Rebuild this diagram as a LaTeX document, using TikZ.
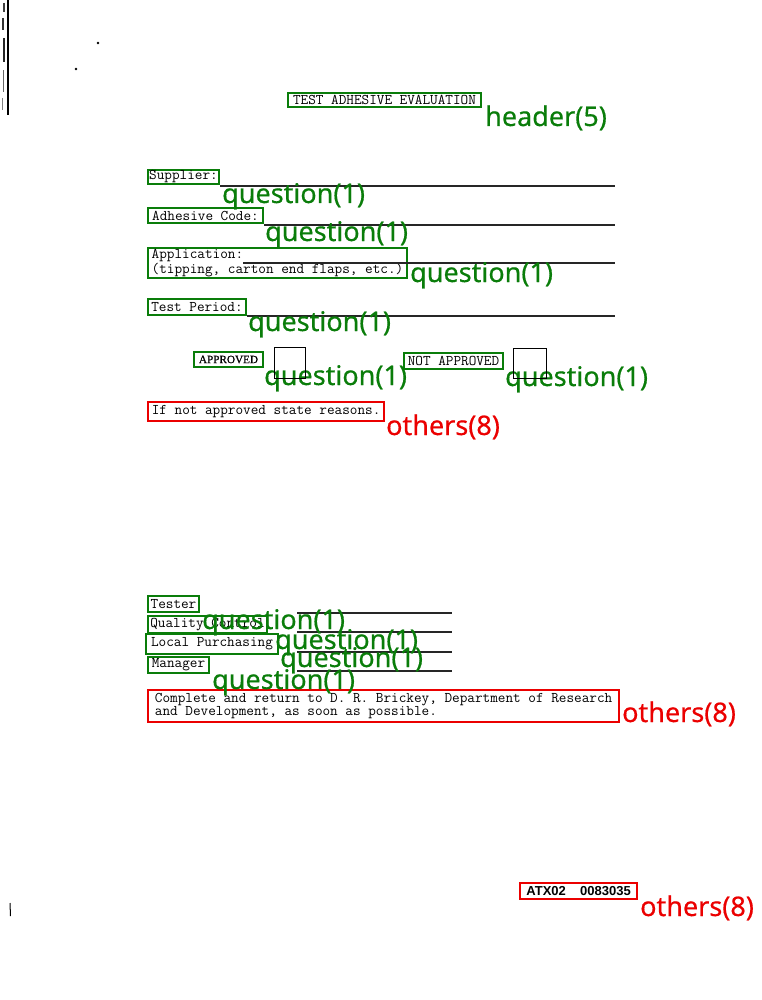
\documentclass[tikz,border=0pt]{standalone}
\usepackage{fontspec}
\newfontfamily\labelfont[FakeBold=0.5]{Noto Sans}
\newcommand{\formfont}{\ttfamily\addfontfeatures{FakeBold=2}}
\newfontfamily\serifform[FakeBold=0.8]{Liberation Serif}
\newfontfamily\idfont{Liberation Sans}
\definecolor{lblgreen}{RGB}{10,125,10}
\definecolor{lblred}{RGB}{235,0,0}
\tikzset{
  formtext/.style={font=\formfont\fontsize{14.8}{13}\selectfont, text=black},
  gbox/.style={draw=lblgreen, line width=2pt, inner sep=0pt, anchor=north west, formtext},
  rbox/.style={draw=lblred, line width=2.2pt, inner sep=0pt, anchor=north west, formtext},
  glabel/.style={font=\labelfont\fontsize{27}{29}\selectfont, text=lblgreen, inner sep=0pt, anchor=base west},
  rlabel/.style={font=\labelfont\fontsize{27}{29}\selectfont, text=lblred, inner sep=0pt, anchor=base west},
  formline/.style={draw=black!85, line width=1.3pt},
  checkbox/.style={draw=black, line width=1pt, inner sep=0pt, anchor=north west}
}
\begin{document}
\begin{tikzpicture}[x=1pt,y=-1pt]
\useasboundingbox (0,0) rectangle (762,1000);
\fill[white] (0,0) rectangle (762,1000);

% scan noise
\draw[line width=1.8pt, black] (8,0) -- (8,115);
\draw[line width=1.2pt, black!75] (4,3) -- (4,12);
\draw[line width=1.5pt, black!80] (3,18) -- (3,30);
\draw[line width=2pt, black!85] (4,38) -- (4,62);
\draw[line width=1pt, black!60] (3,70) -- (3,92);
\draw[line width=0.8pt, black!50] (2,98) -- (2,110);
\fill[black] (98,43) circle (1.3);
\fill[black] (76,69) circle (1.3);
\draw[line width=1pt, black] (10,903) -- (10.5,916);

% header
\node[gbox, minimum width=193pt, minimum height=14pt] (hdr) at (287,92) {TEST ADHESIVE EVALUATION};

% questions with underlines
\node[gbox, minimum width=71pt, minimum height=14pt] (sup) at (147,169) {Supplier:};
\coordinate (supend) at (615,186);
\draw[formline] (sup.east |- supend) -- (supend);

\node[gbox, minimum width=115pt, minimum height=15pt] (adh) at (147,207) {Adhesive Code:};
\coordinate (adhend) at (615,225);
\draw[formline] (adh.east |- adhend) -- (adhend);

\node[gbox, minimum width=259pt, minimum height=30pt, align=left] (app) at (147,247) {Application:\hspace{12.2em}\\(tipping, carton end flaps, etc.)};
\coordinate (appstart) at (243,263);
\coordinate (append) at (615,263);
\draw[formline] (appstart) -- (append);

\node[gbox, minimum width=98pt, minimum height=16pt] (tper) at (147,298) {Test Period:};
\coordinate (tperend) at (615,316);
\draw[formline] (tper.east |- tperend) -- (tperend);

\node[gbox, minimum width=69pt, minimum height=15pt, font=\serifform\fontsize{11.2}{12}\selectfont] (appr) at (193,351) {APPROVED};
\node[gbox, minimum width=99pt, minimum height=16pt] (nappr) at (403,352) {NOT APPROVED};

\node[rbox, minimum width=236pt, minimum height=19pt] (reason) at (147,401) {If not approved state reasons.};

% signatures
\node[gbox, minimum width=51pt, minimum height=16pt] (tester) at (147,595) {Tester};
\node[gbox, minimum width=119pt, minimum height=17pt] (qc) at (147,615) {Quality Control};
\node[gbox, minimum width=132pt, minimum height=20pt] (lp) at (145,633) {Local Purchasing};
\node[gbox, minimum width=61pt, minimum height=16pt] (mgr) at (147,656) {Manager};
\coordinate (s1a) at (297,613); \coordinate (s1b) at (452,613);
\coordinate (s2a) at (297,632); \coordinate (s2b) at (452,632);
\coordinate (s3a) at (297,652); \coordinate (s3b) at (452,652);
\coordinate (s4a) at (297,671); \coordinate (s4b) at (452,671);
\draw[formline] (s1a) -- (s1b);
\draw[formline] (s2a) -- (s2b);
\draw[formline] (s3a) -- (s3b);
\draw[formline] (s4a) -- (s4b);

\node[rbox, minimum width=471pt, minimum height=32pt, align=left] (compl) at (147,689) {Complete and return to D. R. Brickey, Department of Research\\and Development, as soon as possible.\hspace{22.6em}};

\node[rbox, minimum width=117pt, minimum height=16pt, font=\idfont\bfseries\fontsize{13}{14}\selectfont] (atx) at (519,882) {ATX02\hspace{1.1em}0083035};

% category labels
\node[glabel] (lhdr) at (485,126) {header(5)};
\node[glabel] (lsup) at (222,203) {question(1)};
\node[glabel] (ladh) at (265,241) {question(1)};
\node[glabel] (lapp) at (410,282) {question(1)};
\node[glabel] (ltper) at (248,331) {question(1)};
\node[glabel] (lappr) at (264,385) {question(1)};
\node[glabel] (lnappr) at (505,386) {question(1)};
\node[rlabel] (lreason) at (386,435) {others(8)};
\node[glabel] (ltester) at (202,629) {question(1)};
\node[glabel] (lqc) at (275,649) {question(1)};
\node[glabel] (llp) at (280,667) {question(1)};
\node[glabel] (lmgr) at (212,689) {question(1)};
\node[rlabel] (lcompl) at (622,722) {others(8)};
\node[rlabel] (latx) at (640,916) {others(8)};

% check boxes
\node[checkbox, minimum width=31pt, minimum height=31pt] (cb1) at (274,347) {};
\node[checkbox, minimum width=33pt, minimum height=30pt] (cb2) at (513,348) {};
\end{tikzpicture}
\end{document}
